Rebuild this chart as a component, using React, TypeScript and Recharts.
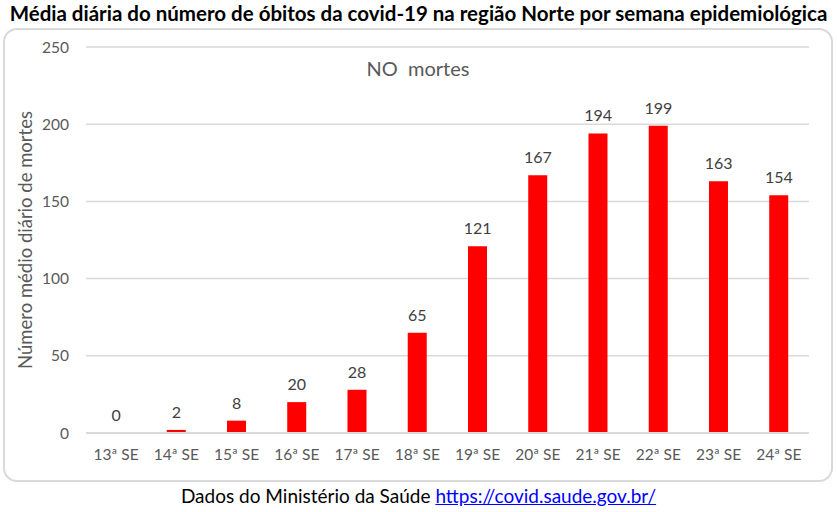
import { Bar, CartesianGrid, ComposedChart, LabelList, Line, XAxis, YAxis } from 'recharts';

const weeks = ['13ª SE', '14ª SE', '15ª SE', '16ª SE', '17ª SE', '18ª SE', '19ª SE', '20ª SE', '21ª SE', '22ª SE', '23ª SE', '24ª SE'];
const deaths = [0, 2, 8, 20, 28, 65, 121, 167, 194, 199, 163, 154];
const yTicks = [0, 50, 100, 150, 200, 250];

const data = weeks.map((week, i) => ({ week, deaths: deaths[i] }));

const FONT = 'Lato, "Open Sans", sans-serif';

export default function App() {
  return (
    <div style={{ position: 'absolute', left: 0, top: 0, width: 837, height: 512, background: '#fff', fontFamily: FONT }}>
      <div style={{ position: 'absolute', left: 0, top: 1, width: 837, textAlign: 'center', fontWeight: 'bold', fontSize: 20.5, color: '#000', whiteSpace: 'nowrap' }}>
        Média diária do número de óbitos da covid-19 na região Norte por semana epidemiológica
      </div>
      <div
        style={{
          position: 'absolute',
          left: 3,
          top: 28,
          width: 826,
          height: 450,
          border: '2px solid #d9d9d9',
          borderRadius: 14,
        }}
      >
        <div style={{ position: 'absolute', left: 0, top: 26, width: 826, textAlign: 'center', fontSize: 20, color: '#595959' }}>
          NO&nbsp;&nbsp;mortes
        </div>
        <ComposedChart
          width={826}
          height={450}
          data={data}
          margin={{ top: 17, right: 22, left: 0, bottom: 17 }}
          barCategoryGap="34%"
        >
          <CartesianGrid stroke="#d9d9d9" strokeWidth={1.5} vertical={false} />
          <XAxis
            dataKey="week"
            axisLine={{ stroke: '#d9d9d9', strokeWidth: 2 }}
            tickLine={false}
            tickMargin={10}
            tick={{ fontSize: 15.5, fill: '#595959', fontFamily: FONT }}
            height={30}
          />
          <YAxis
            domain={[0, 250]}
            ticks={yTicks}
            axisLine={false}
            tickLine={false}
            tickMargin={11}
            width={81}
            tick={{ fontSize: 15.5, fill: '#595959', fontFamily: FONT }}
            label={{
              value: 'Número médio diário de mortes',
              angle: -90,
              position: 'insideLeft',
              offset: 20,
              style: { textAnchor: 'middle', fontSize: 18.5, fill: '#595959', fontFamily: FONT },
            }}
          />
          <Bar dataKey="deaths" fill="#ff0000" isAnimationActive={false} />
          <Line dataKey="deaths" stroke="none" dot={false} activeDot={false} isAnimationActive={false}>
            <LabelList dataKey="deaths" position="top" offset={12} style={{ fontSize: 16, fill: '#404040', fontFamily: FONT }} />
          </Line>
        </ComposedChart>
      </div>
      <div style={{ position: 'absolute', left: 0, top: 484, width: 837, textAlign: 'center', fontSize: 19, color: '#000', whiteSpace: 'nowrap' }}>
        Dados do Ministério da Saúde{' '}
        <a href="https://covid.saude.gov.br/" style={{ color: '#0000ff', textDecoration: 'underline' }}>
          https://covid.saude.gov.br/
        </a>
      </div>
    </div>
  );
}
